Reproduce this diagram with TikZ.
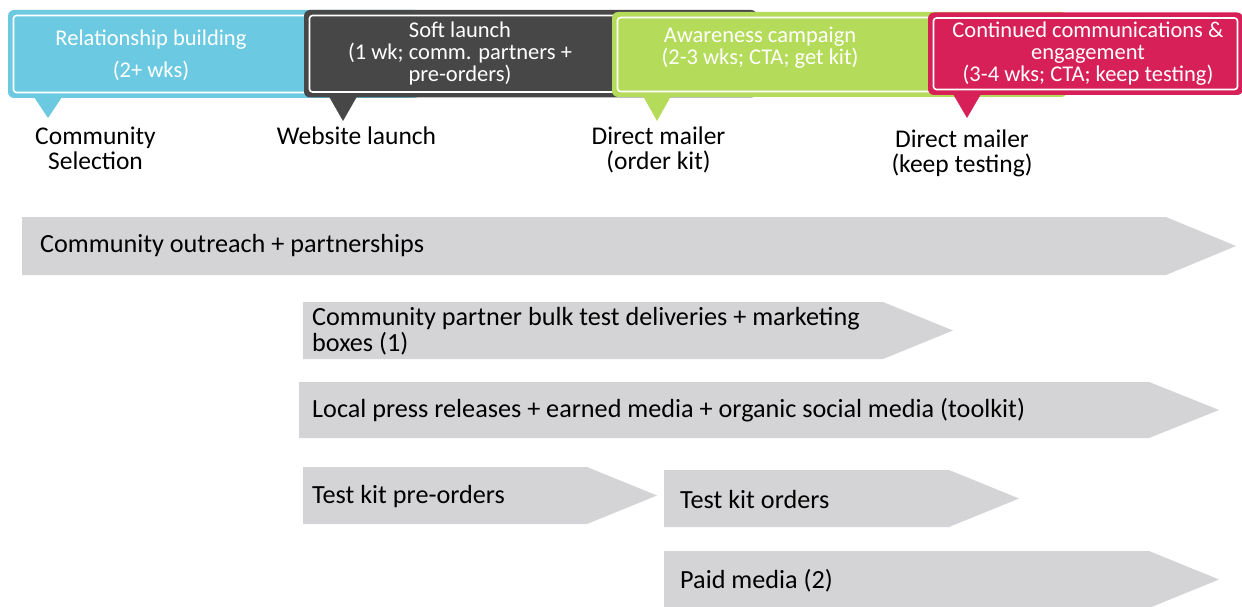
\documentclass[tikz,border=0pt]{standalone}
\usepackage{fontspec}
\setmainfont{Carlito}

\definecolor{calloutblue}{HTML}{6BCAE2}
\definecolor{calloutdark}{HTML}{474747}
\definecolor{calloutgreen}{HTML}{B4DC5A}
\definecolor{calloutred}{HTML}{D71F58}
\definecolor{bargray}{HTML}{D4D4D6}

% Speech-bubble phase box: colour, left, top, right, bottom, pointer tip x, tip y
\newcommand\phasecallout[7]{%
  \fill[#1, rounded corners=6pt] (#2,#3) rectangle (#4,#5);
  \fill[#1] ({#6-14},{#5-1}) -- (#6,#7) -- ({#6+14},{#5-1}) -- cycle;
  \draw[calloutframe] ({#2+5.5},{#3+5.5}) rectangle ({#4-5.5},{#5-5.5});
}
% Grey arrow bar: left, top, bottom, tip x
\newcommand\phasebar[4]{%
  \fill[bargray] (#1,#2) -- ({#4-70},#2) -- (#4,{(#2+#3)/2}) -- ({#4-70},#3) -- (#1,#3) -- cycle;
}

\tikzset{
  calloutframe/.style={draw=white, line width=1.6pt, rounded corners=3pt},
  callouttext/.style={text=white, align=center, inner sep=0pt,
    font=\fontsize{22.5}{22}\selectfont},
  milestone/.style={text=black, align=center, inner sep=0pt,
    font=\fontsize{25.5}{25}\selectfont},
  bartext/.style={text=black, anchor=west, align=left, inner sep=0pt,
    font=\fontsize{26.2}{26}\selectfont},
}

\begin{document}
\begin{tikzpicture}[x=1pt,y=-1pt]
\useasboundingbox (0,0) rectangle (1242,607);
\clip (0,0) rectangle (1242,607);
\fill[white] (0,0) rectangle (1242,607);

% phase callouts, each overlapping the previous one
\phasecallout{calloutblue}{8}{10}{420}{98}{48}{118}
\phasecallout{calloutdark}{304}{10}{757}{97.5}{343}{121}
\phasecallout{calloutgreen}{612}{12}{1067}{97}{657}{121}
\phasecallout{calloutred}{928}{12.5}{1243}{95}{967}{118}

\node[callouttext, font=\fontsize{22.5}{32}\selectfont] (relationship) at (151,55)
  {Relationship building\\(2+ wks)};
\node[callouttext] (softlaunch) at (460,54)
  {Soft launch\\(1 wk; comm. partners +\\pre-orders)};
\node[callouttext] (awareness) at (760,48)
  {Awareness campaign\\(2-3 wks; CTA; get kit)};
\node[callouttext] (continued) at (1088,54)
  {Continued communications \&\\engagement\\(3-4 wks; CTA; keep testing)};

% milestones under the pointers
\node[milestone] (selection) at (95.5,148.5) {Community\\Selection};
\node[milestone] (website) at (356.5,135.5) {Website launch};
\node[milestone] (mailerorder) at (658.5,150) {Direct mailer\\(order kit)};
\node[milestone] (mailerkeep) at (962,153) {Direct mailer\\(keep testing)};

% activity bars
\phasebar{22}{217}{275}{1236}
\phasebar{303}{302}{359}{953}
\phasebar{299}{382}{438}{1219}
\phasebar{303}{467}{524}{657}
\phasebar{664}{470}{527}{1019}
\phasebar{664}{551}{608}{1219}

\node[bartext] (outreach) at (40,246) {Community outreach + partnerships};
\node[bartext] (bulk) at (312,331)
  {Community partner bulk test deliveries + marketing\\boxes (1)};
\node[bartext] (press) at (312,410)
  {Local press releases + earned media + organic social media (toolkit)};
\node[bartext] (preorders) at (312,497) {Test kit pre-orders};
\node[bartext] (orders) at (680,499) {Test kit orders};
\node[bartext] (paid) at (680,581) {Paid media (2)};
\end{tikzpicture}
\end{document}
